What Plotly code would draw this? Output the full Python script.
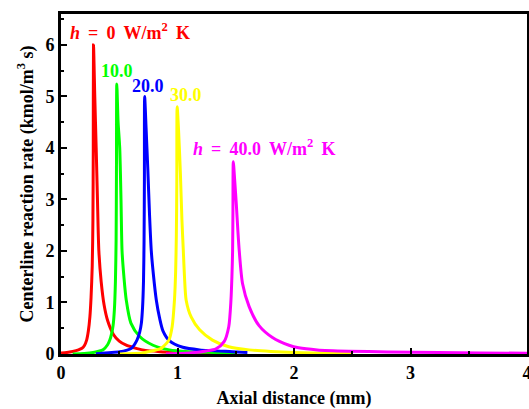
import plotly.graph_objects as go

# h = 0 W/m2 K
x_h0 = [0, 0.05, 0.10, 0.15, 0.18, 0.20, 0.22, 0.235, 0.248, 0.258, 0.268, 0.274, 0.277, 0.279,
        0.29, 0.302, 0.313, 0.325, 0.345, 0.37, 0.40, 0.45, 0.50, 0.56, 0.63, 0.70, 0.85, 1.0, 1.2, 1.5]
y_h0 = [0.02, 0.03, 0.05, 0.08, 0.11, 0.16, 0.27, 0.45, 0.72, 1.1, 1.7, 2.6, 4.0, 6.0,
        5.0, 4.0, 3.0, 2.0, 1.4, 0.95, 0.65, 0.38, 0.25, 0.17, 0.12, 0.08, 0.045, 0.03, 0.02, 0.01]

# h = 10
x_h10 = [0.1, 0.2, 0.276, 0.36, 0.40, 0.419, 0.435, 0.447, 0.458, 0.467, 0.473, 0.476, 0.479,
         0.49, 0.504, 0.515, 0.524, 0.54, 0.56, 0.60, 0.675, 0.79, 0.93, 1.1, 1.3, 1.5]
y_h10 = [0.0, 0.01, 0.03, 0.08, 0.18, 0.27, 0.4, 0.55, 0.85, 1.4, 2.2, 3.5, 5.24,
         4.5, 4.0, 3.0, 2.0, 1.5, 1.05, 0.6, 0.34, 0.17, 0.08, 0.045, 0.03, 0.02]

# h = 20
x_h20 = [0.3, 0.504, 0.56, 0.604, 0.652, 0.675, 0.69, 0.700, 0.708, 0.713, 0.716, 0.718,
         0.73, 0.745, 0.76, 0.775, 0.795, 0.818, 0.846, 0.875, 0.93, 1.045, 1.19, 1.47, 1.6]
y_h20 = [0.005, 0.045, 0.07, 0.11, 0.27, 0.42, 0.6, 0.9, 1.4, 2.2, 3.4, 5.0,
         4.4, 3.6, 2.7, 2.0, 1.5, 1.05, 0.7, 0.45, 0.26, 0.13, 0.08, 0.045, 0.03]

# h = 30
x_h30 = [0.5, 0.7, 0.76, 0.85, 0.875, 0.926, 0.954, 0.974, 0.984, 0.99, 0.994, 0.997,
         1.01, 1.025, 1.038, 1.05, 1.06, 1.074, 1.117, 1.19, 1.30, 1.44, 1.615, 1.8, 2.0, 2.5]
y_h30 = [0.0, 0.02, 0.05, 0.1, 0.14, 0.27, 0.53, 1.05, 1.6, 2.3, 3.3, 4.8,
         4.3, 3.5, 2.6, 2.0, 1.5, 1.05, 0.72, 0.47, 0.27, 0.14, 0.08, 0.05, 0.03, 0.01]

# h = 40
x_h40 = [0.9, 1.1, 1.245, 1.33, 1.40, 1.44, 1.459, 1.467, 1.473, 1.476, 1.479,
         1.49, 1.505, 1.518, 1.53, 1.558, 1.615, 1.70, 1.815, 1.957, 2.04, 2.2, 2.47, 2.8, 3.24, 3.6, 4.0]
y_h40 = [0.0, 0.02, 0.06, 0.1, 0.24, 0.53, 1.05, 1.5, 2.0, 2.8, 3.73,
         3.4, 2.9, 2.4, 2.0, 1.37, 0.92, 0.55, 0.32, 0.17, 0.12, 0.08, 0.055, 0.04, 0.03, 0.02, 0.015]

series = [
    (x_h0, y_h0, "#ff0000"),
    (x_h10, y_h10, "#00ff00"),
    (x_h20, y_h20, "#0000ff"),
    (x_h30, y_h30, "#ffff00"),
    (x_h40, y_h40, "#ff00ff"),
]

SP = "\u00a0\u2009"
labels = [
    ("<b><i>h</i>" + SP + "=" + SP + "0" + SP + "W/m<sup>2</sup>" + SP + "K</b>", 0.06, 6.27, "#ff0000"),
    ("<b>10.0</b>", 0.325, 5.50, "#00ff00"),
    ("<b>20.0</b>", 0.59, 5.20, "#0000ff"),
    ("<b>30.0</b>", 0.915, 5.03, "#ffff00"),
    ("<b><i>h</i>" + SP + "=" + SP + "40.0" + SP + "W/m<sup>2</sup>" + SP + "K</b>", 1.12, 4.0, "#ff00ff"),
]

FONT = "Liberation Serif"

fig = go.Figure()
for xs, ys, c in series:
    fig.add_trace(go.Scatter(x=xs, y=ys, mode="lines",
                             line=dict(color=c, width=3, shape="spline", smoothing=0.7),
                             showlegend=False, hoverinfo="skip"))

for t, x, y, c in labels:
    fig.add_annotation(x=x, y=y, text=t, showarrow=False, xanchor="left", yanchor="middle",
                       font=dict(family=FONT, size=18, color=c))

fig.update_layout(
    width=529, height=409,
    margin=dict(l=61, r=2, t=14, b=55),
    paper_bgcolor="white", plot_bgcolor="white",
    font=dict(family=FONT, size=18, color="black"),
    hovermode=False,
)
fig.update_xaxes(
    range=[0, 4], tickvals=[0, 1, 2, 3, 4], ticktext=["<b>0</b>", "<b>1</b>", "<b>2</b>", "<b>3</b>", "<b>4</b>"],
    ticks="inside", ticklen=6, tickwidth=2, tickcolor="black", ticklabeloverflow="allow",
    minor=dict(ticks="inside", ticklen=3, tickwidth=2, tickcolor="black", dtick=0.5),
    showline=True, linewidth=3, linecolor="black", mirror=True,
    showgrid=False, zeroline=False, automargin=False,
    title=dict(text="<b>Axial distance (mm)</b>", font=dict(family=FONT, size=18), standoff=12),
)
fig.update_yaxes(
    range=[0, 6.6], tickvals=[0, 1, 2, 3, 4, 5, 6], ticktext=["<b>%d</b>" % v for v in range(7)],
    ticks="inside", ticklen=6, tickwidth=2, tickcolor="black",
    minor=dict(ticks="inside", ticklen=3, tickwidth=2, tickcolor="black", dtick=0.5),
    showline=True, linewidth=3, linecolor="black", mirror=True,
    showgrid=False, zeroline=False, automargin=False,
    title=dict(text="<b>Centerline reaction rate (kmol/m<sup>3</sup> s)</b>", font=dict(family=FONT, size=18), standoff=8),
)

fig.write_html("out.html", config={"displayModeBar": False, "staticPlot": True},
               post_script="document.body.style.margin='0';document.body.style.overflow='hidden';")
